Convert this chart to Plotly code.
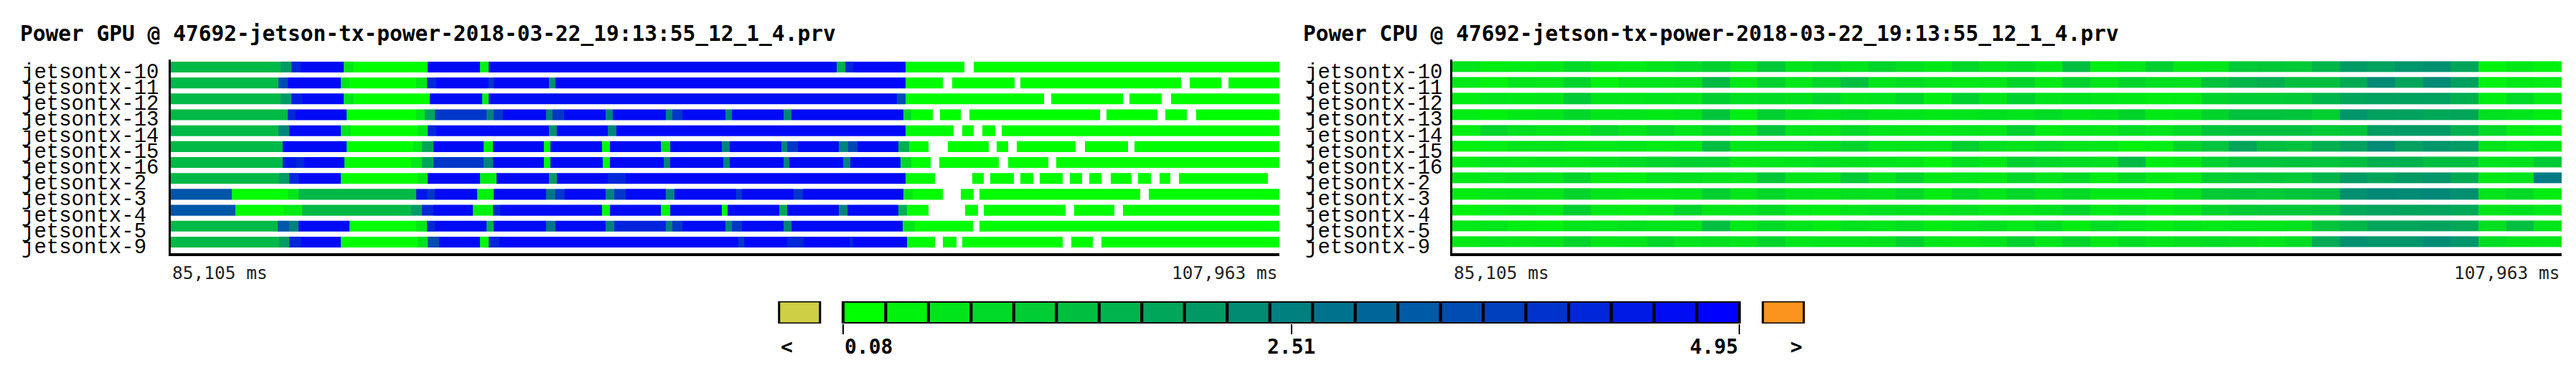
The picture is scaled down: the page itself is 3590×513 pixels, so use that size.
import plotly.graph_objects as go

W = 3590
H = 513

rows = ["jetsontx-10", "jetsontx-11", "jetsontx-12", "jetsontx-13", "jetsontx-14", "jetsontx-15",
        "jetsontx-16", "jetsontx-2", "jetsontx-3", "jetsontx-4", "jetsontx-5", "jetsontx-9"]
trace_file = "47692-jetson-tx-power-2018-03-22_19:13:55_12_1_4.prv"
t_begin = 85105
t_end = 107963
v_min = 0.08
v_max = 4.95

# GPU power: state edges (ms) and the value held until the next edge (None = no data)
gpu_10_t = [85105, 87369, 87591, 87783, 88671, 88878, 90402, 91482, 91659, 98835, 99012, 99175, 100255, 101468,
            101661, 107963]
gpu_10_v = [1.42, 2.0, 4.2, 4.75, 0.55, 0.1, 4.75, 0.3, 4.75, 1.6, 4.2, 4.8, 0.15, None, 0.1]

gpu_11_t = [85105, 87324, 87517, 88611, 88789, 90165, 90387, 90579, 91659, 91763, 92902, 93035, 100255, 101024,
            101217, 102504, 102622, 105937, 106114, 106765, 106913, 107963]
gpu_11_v = [1.42, 3.5, 4.75, 0.55, 0.1, 0.55, 4.2, 4.75, 3.9, 4.75, 2.2, 4.8, 0.15, None, 0.1, None, 0.1, None,
            0.1, None, 0.12]

gpu_12_t = [85105, 87369, 87591, 87812, 88671, 88878, 90446, 91526, 91659, 100078, 100255, 103111, 103259, 104738,
            104871, 105537, 105729, 107963]
gpu_12_v = [1.42, 2.0, 4.4, 4.75, 0.55, 0.1, 4.75, 0.3, 4.7, 3.5, 0.12, None, 0.1, None, 0.1, None, 0.1]

gpu_13_t = [85105, 87517, 87679, 88730, 90165, 90342, 90550, 91615, 91763, 91955, 92843, 92976, 93213, 94071,
            94219, 95314, 95447, 95654, 96542, 96675, 97740, 97903, 100211, 100373, 100817, 100965, 101394, 101571,
            104265, 104398, 105448, 105611, 106055, 106247, 107963]
gpu_13_v = [1.42, 4.2, 4.75, 0.1, 0.55, 1.8, 3.9, 2.45, 3.9, 4.75, 2.45, 3.9, 4.75, 2.45, 4.75, 2.45, 3.9, 4.75,
            2.45, 4.75, 2.45, 4.75, 0.85, 0.12, None, 0.1, None, 0.1, None, 0.1, None, 0.1, None, 0.12]

gpu_14_t = [85105, 87324, 87546, 88611, 88819, 90194, 90402, 90579, 92902, 93065, 94115, 94293, 100255, 101246,
            101424, 101661, 101838, 102105, 102238, 107963]
gpu_14_v = [1.42, 2.45, 4.75, 0.55, 0.1, 0.55, 4.2, 4.75, 2.2, 4.75, 2.45, 4.8, 0.2, None, 0.1, None, 0.1, None,
            0.12]

gpu_15_t = [85105, 87413, 88730, 90106, 90283, 90520, 91556, 91748, 92798, 92932, 93997, 94160, 95210, 95402,
            96468, 96630, 97696, 97814, 98036, 98879, 99071, 99264, 100107, 100329, 100729, 101128, 101971, 102134,
            102371, 102548, 103761, 103954, 104842, 104975, 107963]
gpu_15_v = [1.42, 4.75, 0.1, 0.55, 1.8, 4.75, 0.45, 4.75, 0.15, 4.75, 0.15, 4.75, 0.65, 4.75, 2.45, 4.75, 2.45,
            3.9, 4.75, 2.45, 3.6, 4.75, 1.6, 0.12, None, 0.1, None, 0.1, None, 0.1, None, 0.1, None, 0.12]

gpu_16_t = [85105, 87413, 87694, 87857, 88685, 90061, 90283, 90520, 91556, 91748, 92798, 92932, 94012, 94160,
            95269, 95402, 96497, 96630, 97740, 97858, 98968, 99116, 100152, 100373, 100773, 100950, 102178, 102371,
            103200, 103362, 107963]
gpu_16_v = [1.42, 4.5, 4.2, 4.75, 0.1, 0.55, 1.8, 3.9, 2.45, 4.75, 0.15, 4.75, 0.15, 4.75, 2.45, 4.75, 2.45, 4.75,
            2.45, 4.75, 2.45, 4.75, 0.85, 0.12, None, 0.1, None, 0.1, None, 0.12]

gpu_2_t = [85105, 87339, 87546, 87739, 88611, 90194, 90402, 91482, 91822, 92902, 93065, 94115, 94485, 100255,
           100862, 101631, 101868, 102001, 102489, 102622, 102889, 103022, 103495, 103643, 103895, 104043, 104294,
           104486, 104916, 105049, 105314, 105493, 105714, 105892, 107727]
gpu_2_v = [1.42, 2.0, 4.2, 4.75, 0.1, 0.55, 4.75, 0.45, 4.75, 2.0, 4.75, 4.2, 4.8, 0.15, None, 0.1, None, 0.1,
           None, 0.1, None, 0.1, None, 0.1, None, 0.1, None, 0.1, None, 0.1, None, 0.1, None, 0.12]

gpu_3_t = [85105, 86363, 87517, 87739, 90165, 90402, 90550, 91422, 91763, 92843, 93035, 93227, 94071, 94248,
           94485, 95314, 95491, 96763, 96882, 97947, 98139, 100211, 100403, 101024, 101394, 101661, 101779, 105093,
           105270, 107963]
gpu_3_v = [3.3, 0.1, 0.55, 1.42, 4.5, 3.9, 4.75, 0.35, 4.75, 2.75, 3.9, 4.75, 2.45, 3.9, 4.75, 2.45, 4.75, 3.9,
           4.75, 3.9, 4.75, 0.55, 0.12, None, 0.1, None, 0.1, None, 0.12]

gpu_4_t = [85105, 86437, 87428, 87812, 90061, 90283, 90520, 91334, 91748, 91896, 93997, 94160, 95210, 95402,
           96468, 96586, 97651, 97814, 98879, 99057, 100107, 100285, 100729, 101483, 101749, 101868, 103554, 103732,
           104560, 104738, 107963]
gpu_4_v = [3.3, 0.1, 0.45, 1.42, 2.0, 4.2, 4.75, 0.35, 4.2, 4.75, 0.15, 4.75, 0.2, 4.75, 0.15, 4.75, 1.8, 4.75,
           2.45, 4.75, 1.6, 0.12, None, 0.1, None, 0.1, None, 0.1, None, 0.12]

gpu_5_t = [85105, 87309, 87546, 87739, 88789, 90165, 90387, 90550, 91615, 91763, 92843, 93035, 94071, 94248,
           95314, 95447, 95654, 96542, 96675, 96882, 97740, 97903, 100196, 100447, 101646, 101779, 107963]
gpu_5_v = [1.42, 3.3, 2.45, 4.75, 0.1, 0.55, 4.2, 4.75, 1.6, 4.75, 2.75, 4.75, 2.45, 4.3, 2.45, 3.9, 4.75, 2.45,
           3.9, 4.75, 2.45, 4.75, 0.55, 0.12, None, 0.12]

gpu_9_t = [85105, 87339, 87546, 87783, 88611, 90194, 90402, 90638, 91482, 91659, 91881, 96808, 96926, 97814,
           98154, 99101, 99175, 100285, 100862, 101024, 101305, 101424, 103495, 103673, 104117, 104294, 107963]
gpu_9_v = [1.42, 2.0, 4.2, 4.75, 0.1, 0.65, 3.5, 4.75, 0.2, 4.2, 4.8, 3.9, 4.8, 4.2, 4.8, 4.2, 4.8, 0.15, None,
           0.1, None, 0.1, None, 0.1, None, 0.12]

gpu_t = [gpu_10_t, gpu_11_t, gpu_12_t, gpu_13_t, gpu_14_t, gpu_15_t, gpu_16_t, gpu_2_t, gpu_3_t, gpu_4_t,
         gpu_5_t, gpu_9_t]
gpu_v = [gpu_10_v, gpu_11_v, gpu_12_v, gpu_13_v, gpu_14_v, gpu_15_v, gpu_16_v, gpu_2_v, gpu_3_v, gpu_4_v,
         gpu_5_v, gpu_9_v]

# CPU power: 40 equal time bins per host
cpu_10 = [0.6, 0.4, 0.45, 0.5, 0.8, 0.5, 0.45, 0.6, 0.75, 1.0, 0.55, 1.15, 0.6, 0.85, 0.6, 0.9, 0.7, 0.5, 0.85,
          0.6, 0.75, 0.5, 1.3, 0.4, 0.55, 1.0, 0.5, 0.55, 1.1, 1.15, 1.1, 1.5, 2.0, 1.85, 2.1, 2.2, 1.8, 0.3, 0.5,
          0.35]
cpu_11 = [0.5, 0.3, 0.6, 0.55, 0.9, 0.3, 0.6, 0.6, 0.65, 1.4, 0.5, 0.95, 0.55, 0.85, 1.3, 0.6, 0.75, 0.6, 0.5,
          0.55, 0.9, 0.5, 0.95, 0.6, 0.9, 0.7, 0.65, 1.25, 1.5, 1.6, 1.3, 1.3, 1.7, 2.3, 1.8, 2.3, 1.9, 0.3, 0.5,
          0.45]
cpu_12 = [0.4, 0.55, 0.5, 0.55, 1.1, 0.6, 0.55, 0.6, 0.55, 1.0, 0.7, 0.75, 0.65, 0.9, 0.55, 0.6, 0.85, 0.4, 0.95,
          0.55, 0.95, 0.6, 0.65, 0.55, 0.5, 0.4, 0.45, 0.9, 1.05, 1.05, 1.1, 1.5, 1.8, 1.9, 1.85, 1.9, 1.6, 0.4,
          0.8, 0.45]
cpu_13 = [0.45, 0.35, 0.5, 0.55, 0.85, 0.55, 0.6, 0.5, 0.6, 1.2, 0.4, 1.0, 0.65, 0.6, 0.75, 0.55, 0.6, 0.5, 0.6,
          0.7, 0.6, 0.75, 0.55, 0.65, 0.9, 0.5, 0.55, 0.9, 1.25, 1.25, 1.2, 1.0, 2.1, 1.9, 1.85, 1.75, 1.8, 0.7,
          0.6, 0.4]
cpu_14 = [0.4, 0.9, 0.7, 0.6, 0.55, 0.85, 0.6, 0.85, 0.6, 0.9, 0.55, 1.2, 0.6, 0.55, 0.8, 0.6, 0.55, 0.5, 0.6,
          0.55, 1.0, 0.45, 0.6, 0.55, 0.75, 0.6, 0.8, 1.2, 1.3, 1.3, 1.3, 1.1, 1.2, 1.95, 2.0, 2.0, 1.6, 0.8, 0.45,
          0.3]
cpu_15 = [0.35, 0.4, 0.6, 0.6, 0.5, 0.5, 0.55, 0.45, 0.5, 1.3, 0.55, 0.6, 0.6, 0.65, 0.9, 0.55, 0.6, 0.55, 1.0,
          0.7, 0.6, 0.75, 0.6, 0.55, 0.35, 0.4, 0.9, 1.2, 1.8, 1.35, 1.25, 1.6, 1.9, 2.3, 1.9, 2.1, 2.0, 0.6, 0.45,
          0.5]
cpu_16 = [0.45, 0.6, 0.55, 0.6, 0.55, 0.65, 0.75, 0.9, 1.0, 0.95, 0.5, 0.55, 0.6, 0.7, 0.65, 0.6, 0.55, 0.3, 0.7,
          0.5, 1.0, 0.85, 0.75, 0.7, 1.4, 0.4, 0.5, 0.95, 1.2, 1.2, 1.25, 1.2, 1.3, 1.6, 1.55, 1.3, 1.3, 0.6, 0.65,
          1.1]
cpu_2 = [0.5, 0.55, 0.65, 0.6, 0.9, 0.45, 0.4, 0.65, 0.7, 0.6, 0.55, 1.15, 0.6, 0.55, 1.1, 0.6, 0.9, 0.5, 0.55,
         0.5, 0.85, 0.6, 0.8, 0.45, 0.8, 0.5, 0.45, 1.0, 1.1, 1.15, 1.1, 1.5, 2.0, 1.8, 2.0, 2.1, 1.7, 0.5, 0.6,
         2.6]
cpu_3 = [0.45, 0.55, 0.6, 0.55, 0.9, 0.6, 0.5, 0.5, 0.55, 1.0, 0.55, 0.85, 0.6, 0.55, 0.7, 0.6, 0.85, 0.45, 0.8,
         0.55, 0.85, 0.6, 0.8, 0.5, 0.5, 0.45, 0.65, 1.1, 1.15, 1.1, 1.2, 1.3, 2.2, 2.35, 2.3, 2.35, 2.2, 0.6, 0.8,
         0.45]
cpu_4 = [0.3, 0.5, 0.55, 0.5, 1.0, 0.5, 0.45, 0.55, 0.9, 0.55, 0.6, 0.8, 0.5, 0.45, 0.6, 0.7, 0.65, 0.55, 0.7,
         0.5, 0.55, 0.65, 0.9, 0.5, 0.7, 0.45, 0.55, 0.9, 1.1, 1.15, 1.15, 1.2, 1.75, 1.85, 1.8, 1.85, 1.75, 0.55,
         0.65, 0.5]
cpu_5 = [0.5, 0.55, 0.4, 0.35, 0.6, 0.55, 0.65, 0.6, 0.55, 1.3, 0.5, 0.8, 0.6, 0.45, 0.65, 0.55, 0.7, 0.45, 0.6,
         0.7, 0.5, 0.75, 0.45, 0.75, 0.55, 0.45, 0.6, 0.5, 0.55, 0.6, 0.65, 1.2, 1.45, 1.8, 1.8, 1.85, 1.75, 0.7,
         1.3, 0.6]
cpu_9 = [0.5, 0.6, 0.55, 0.6, 0.9, 0.55, 0.6, 0.85, 0.6, 0.7, 0.6, 0.9, 0.55, 0.6, 0.6, 0.65, 1.0, 0.55, 0.5,
         0.6, 0.95, 0.55, 0.9, 0.5, 0.75, 0.6, 0.7, 0.75, 0.7, 0.6, 0.75, 1.7, 2.2, 2.1, 2.1, 2.3, 2.1, 0.75, 0.6,
         0.55]

cpu_z = [cpu_10, cpu_11, cpu_12, cpu_13, cpu_14, cpu_15, cpu_16, cpu_2, cpu_3, cpu_4, cpu_5, cpu_9]

legend_values = [0.08, 0.32, 0.57, 0.81, 1.05, 1.30, 1.54, 1.78, 2.03, 2.27, 2.51, 2.76, 3.00, 3.24, 3.49, 3.73,
                 3.97, 4.22, 4.46, 4.71, 4.95]
legend_ticks = [0.08, 2.51, 4.95]
below_color = "#cfcf46"
above_color = "#fa941e"

scale = [[0, "rgb(0,255,0)"], [1, "rgb(0,0,255)"]]

bar_y, bar_base, bar_len, bar_val = [], [], [], []
for i in range(len(rows)):
    t = gpu_t[i]
    v = gpu_v[i]
    for k in range(len(v)):
        if v[k] is None:
            continue
        bar_y.append(i)
        bar_base.append(t[k])
        bar_len.append(t[k + 1] - t[k])
        bar_val.append(v[k])

fig = go.Figure()

fig.add_trace(go.Bar(orientation="h", y=bar_y, base=bar_base, x=bar_len, width=0.68,
                     marker=dict(color=bar_val, colorscale=scale, cmin=v_min, cmax=v_max, line=dict(width=0)),
                     xaxis="x", yaxis="y", showlegend=False, hoverinfo="skip"))

dx = (t_end - t_begin) / len(cpu_z[0])
fig.add_trace(go.Heatmap(z=cpu_z, x0=t_begin + dx / 2, dx=dx, y=list(range(len(rows))), ygap=7,
                         colorscale=scale, zmin=v_min, zmax=v_max, showscale=False,
                         xaxis="x2", yaxis="y2", hoverinfo="skip"))

# colour legend
fig.add_trace(go.Bar(x=list(range(len(legend_values))), y=[1] * len(legend_values), width=1,
                     marker=dict(color=legend_values, colorscale=scale, cmin=v_min, cmax=v_max,
                                 line=dict(color="black", width=4)),
                     xaxis="x3", yaxis="y3", showlegend=False, hoverinfo="skip"))
fig.add_trace(go.Bar(x=[-1.52, 21.53], y=[1, 1], width=0.96,
                     marker=dict(color=[below_color, above_color], line=dict(color="black", width=3)),
                     xaxis="x3", yaxis="y3", showlegend=False, hoverinfo="skip"))

mono = "DejaVu Sans Mono"
lab_font = dict(family="Liberation Mono", size=29, color="black")
y_dom = [1 - 345 / H, 1 - 75 / H]
y_rng = [11.7, -0.47]
panels = [("x", "y", "Power GPU", 18, 230, 1775, 20), ("x2", "y2", "Power CPU", 1806, 2016, 3562, 1809)]

ann = []
for xa, ya, name, tx, x_left, x_right, lx in panels:
    ann.append(dict(text=f"<b>{name} @ {trace_file}</b>", x=tx / W, y=1 - 39 / H, xref="paper", yref="paper",
                    xanchor="left", yanchor="middle", showarrow=False,
                    font=dict(family=mono, size=29.5, color="black")))
    for i, r in enumerate(rows):
        ann.append(dict(text=r, x=lx / W, y=i, xref="paper", yref=ya, xanchor="left", yanchor="middle",
                        yshift=-8, showarrow=False, font=lab_font))
    ann.append(dict(text=f"{t_begin:,} ms", x=x_left / W, y=1 - 372 / H, xref="paper", yref="paper",
                    xanchor="left", yanchor="middle", showarrow=False,
                    font=dict(family=mono, size=24.5, color="#222222")))
    ann.append(dict(text=f"{t_end:,} ms", x=x_right / W, y=1 - 372 / H, xref="paper", yref="paper",
                    xanchor="right", yanchor="middle", showarrow=False,
                    font=dict(family=mono, size=24.5, color="#222222")))

leg_font = dict(family=mono, size=28, color="black")
leg_y = 1 - 475 / H
ann.append(dict(text="<b><</b>", x=-2.0, y=leg_y, xref="x3", yref="paper", xanchor="left", yanchor="middle",
                showarrow=False, font=leg_font))
ann.append(dict(text="<b>></b>", x=22.01, y=leg_y, xref="x3", yref="paper", xanchor="right", yanchor="middle",
                showarrow=False, font=leg_font))
ann.append(dict(text=f"<b>{legend_ticks[0]:.2f}</b>", x=-0.5, y=leg_y, xref="x3", yref="paper",
                xanchor="left", yanchor="middle", showarrow=False, font=leg_font))
ann.append(dict(text=f"<b>{legend_ticks[1]:.2f}</b>", x=10, y=leg_y, xref="x3", yref="paper",
                xanchor="center", yanchor="middle", showarrow=False, font=leg_font))
ann.append(dict(text=f"<b>{legend_ticks[2]:.2f}</b>", x=20.5, y=leg_y, xref="x3", yref="paper",
                xanchor="right", yanchor="middle", showarrow=False, font=leg_font))

hidden = dict(showgrid=False, zeroline=False, showticklabels=False, ticks="")

fig.update_layout(
    width=W, height=H, margin=dict(l=0, r=0, t=0, b=0),
    paper_bgcolor="white", plot_bgcolor="white", barmode="overlay", showlegend=False,
    xaxis=dict(domain=[230 / W, 1775 / W], range=[t_begin, t_end], anchor="y",
               showline=True, linewidth=4, linecolor="black", **hidden),
    yaxis=dict(domain=y_dom, range=y_rng, anchor="x", showline=True, linewidth=3, linecolor="black", **hidden),
    xaxis2=dict(domain=[2016 / W, 3562 / W], range=[t_begin, t_end], anchor="y2",
                showline=True, linewidth=4, linecolor="black", **hidden),
    yaxis2=dict(domain=y_dom, range=y_rng, anchor="x2", showline=True, linewidth=3, linecolor="black", **hidden),
    xaxis3=dict(domain=[1048 / W, 2535 / W], range=[-2.5, 22.5], anchor="y3", showgrid=False, zeroline=False,
                showticklabels=False, ticks="outside", tickvals=[-0.5, 10, 20.5], ticklen=14, tickwidth=2,
                tickcolor="black"),
    yaxis3=dict(domain=[1 - 443 / H, 1 - 412 / H], range=[0, 1], anchor="x3", **hidden),
    annotations=ann,
)

fig.write_html("out.html")
